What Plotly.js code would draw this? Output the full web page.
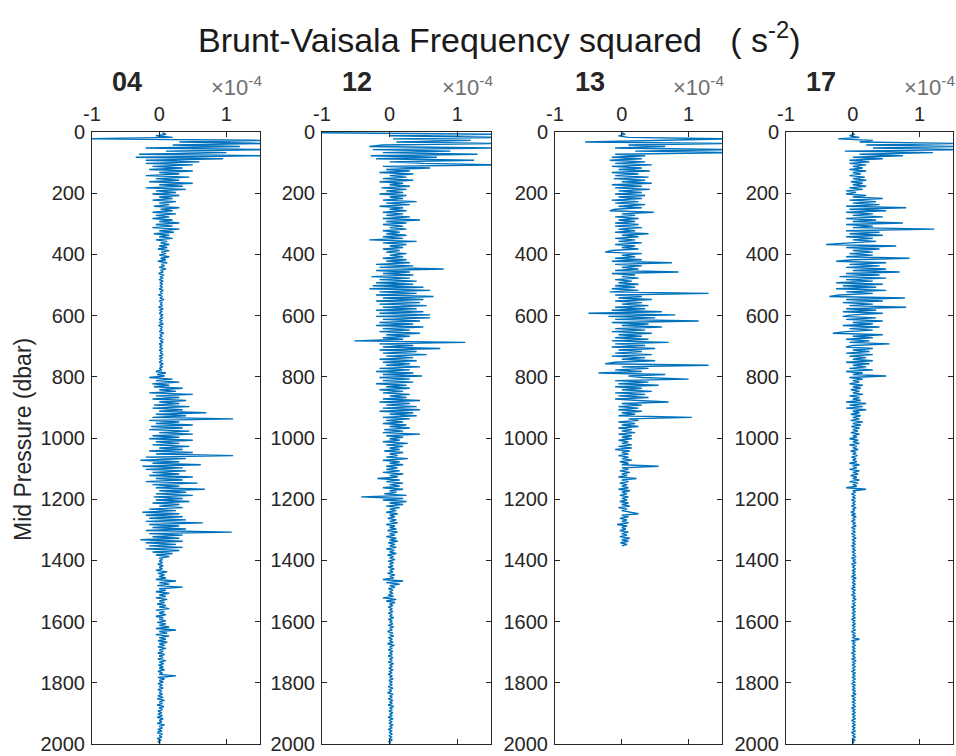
<!DOCTYPE html>
<html>
<head>
<meta charset="utf-8">
<script src="https://cdn.plot.ly/plotly-3.0.1.min.js"></script>
<style>html,body{margin:0;padding:0;background:#fff;}#chart{width:956px;height:756px;}</style>
</head>
<body>
<div id="chart"></div>
<script>
// N^2 values in units of 1e-4 s^-2, one value every 5 dbar (mid pressures 2.5, 7.5, ...)
const P_STEP = 5;
const stations = ["04", "12", "13", "17"];
const yTicks = [0, 200, 400, 600, 800, 1000, 1200, 1400, 1600, 1800, 2000];
const xTicks = [-1, 0, 1];

const n2_04 = [
0.05,0.1,-0.05,0.2,-1.05,1.6,0.3,1.6,0.2,1.2,-0.2,1.6,0.1,1.0,-0.3,1.6,-0.35,0.95,-0.2,0.6,
-0.2,0.5,-0.1,0.35,-0.15,0.5,0.0,0.3,-0.2,0.45,-0.05,0.3,-0.15,0.5,0.0,0.35,-0.2,0.4,-0.05,0.25,
-0.1,0.3,0.0,0.2,-0.1,0.25,0.0,0.15,-0.08,0.3,0.02,0.2,-0.1,0.25,-0.05,0.15,-0.1,0.2,0.0,0.3,
-0.05,0.2,-0.1,0.3,0.0,0.22,-0.08,0.15,0.0,0.2,-0.05,0.12,0.02,0.15,0.0,0.12,-0.02,0.15,0.03,0.1,
0.0,0.15,0.02,0.1,-0.02,0.12,0.03,0.08,0.0,0.1,0.02,0.06,-0.01,0.07,0.02,0.05,0.0,0.06,0.01,0.05,
0.01,0.05,0.0,0.06,0.02,0.04,-0.01,0.05,0.01,0.07,0.0,0.04,0.02,0.05,-0.01,0.06,0.01,0.04,0.0,0.05,
0.02,0.05,0.0,0.04,0.01,0.06,-0.01,0.05,0.02,0.04,0.0,0.07,0.01,0.04,0.0,0.05,0.02,0.06,0.0,0.04,
0.01,0.05,0.0,0.04,0.02,0.06,0.0,0.05,0.01,0.04,0.0,0.06,0.01,0.05,0.0,0.04,-0.05,0.1,-0.03,0.08,
-0.15,0.2,-0.05,0.3,-0.1,0.15,-0.08,0.35,0.0,0.25,-0.15,0.5,-0.05,0.3,-0.1,0.4,0.0,0.3,-0.08,0.45,
-0.1,0.35,0.0,0.7,-0.05,0.4,-0.1,1.1,-0.15,0.3,-0.05,0.5,-0.12,0.35,-0.15,0.45,0.0,0.5,-0.1,0.3,
-0.15,0.5,-0.05,0.3,-0.1,0.45,0.0,0.35,-0.15,0.5,-0.05,1.1,-0.2,0.4,-0.28,0.3,-0.1,0.62,-0.25,0.35,
-0.2,0.4,-0.1,0.3,-0.15,0.5,-0.05,0.35,-0.2,0.57,-0.1,0.3,-0.05,0.68,0.0,0.4,-0.05,0.5,-0.08,0.35,
-0.05,0.45,-0.1,0.3,0.0,0.35,-0.15,0.25,-0.25,0.3,-0.2,0.35,-0.15,0.4,-0.2,0.65,-0.15,0.3,-0.1,0.4,
-0.2,1.08,-0.15,0.35,-0.1,0.3,-0.28,0.35,-0.2,0.25,-0.15,0.35,-0.2,0.3,-0.1,0.2,-0.05,0.15,0.0,0.05,
0.0,0.05,-0.02,0.06,0.0,0.05,-0.05,0.12,-0.02,0.08,0.0,0.1,-0.05,0.25,0.0,0.15,-0.03,0.35,0.0,0.1,
-0.05,0.15,0.0,0.1,-0.05,0.12,0.0,0.08,-0.03,0.1,0.0,0.15,-0.05,0.08,0.0,0.1,-0.05,0.06,0.0,0.1,
-0.03,0.1,0.0,0.15,-0.05,0.25,0.0,0.12,-0.05,0.15,0.0,0.1,-0.02,0.12,0.0,0.08,-0.02,0.1,0.0,0.06,
-0.02,0.08,0.0,0.06,-0.02,0.1,0.0,0.07,-0.01,0.06,0.0,0.08,-0.02,0.05,0.0,0.25,-0.02,0.08,0.0,0.06,
-0.02,0.05,0.0,0.06,-0.02,0.04,0.0,0.05,-0.02,0.06,-0.03,0.08,0.0,0.05,-0.03,0.07,0.0,0.05,-0.02,0.04,
-0.02,0.05,-0.03,0.06,0.0,0.04,-0.03,0.08,0.0,0.05,-0.02,0.04,-0.03,0.05,0.0,0.04,-0.03,0.03,-0.02,0.02
];

const n2_12 = [
-1.1,1.6,0.0,1.6,0.05,1.2,0.1,1.6,-0.1,-0.3,1.6,-0.25,0.9,-0.1,1.3,-0.28,0.7,-0.2,1.25,0.0,
0.5,1.6,-0.1,0.6,-0.05,0.3,-0.15,0.35,0.0,0.25,-0.1,0.35,-0.15,0.2,0.0,0.3,-0.12,0.25,-0.05,0.2,
-0.15,0.25,0.0,0.2,-0.1,0.4,-0.05,0.3,-0.15,0.2,0.0,0.25,-0.1,0.2,-0.05,0.3,-0.1,0.45,-0.05,0.25,
-0.1,0.2,0.0,0.25,-0.1,0.15,-0.05,0.25,-0.1,0.2,-0.3,0.4,-0.1,0.25,0.0,0.2,-0.1,0.15,-0.05,0.25,
0.0,0.2,-0.1,0.25,-0.05,0.3,-0.2,0.35,-0.15,0.8,-0.2,0.3,-0.1,0.35,-0.27,0.3,-0.15,0.4,-0.2,0.35,
-0.25,0.5,-0.3,0.6,-0.15,0.4,-0.2,0.65,-0.1,0.5,-0.2,0.45,-0.15,0.55,-0.1,0.4,-0.2,0.5,-0.15,0.6,
-0.2,0.6,-0.1,0.45,-0.15,0.35,-0.2,0.5,-0.1,0.3,-0.15,0.45,-0.05,0.3,-0.1,0.2,-0.52,1.12,-0.15,0.35,
-0.1,0.75,-0.15,0.4,-0.1,0.55,-0.05,0.35,-0.15,0.4,-0.1,0.3,-0.05,0.45,-0.15,0.3,-0.2,0.35,-0.1,0.48,
-0.15,0.3,-0.1,0.35,-0.2,0.25,-0.05,0.3,-0.15,0.2,-0.1,0.3,0.0,0.25,-0.1,0.45,-0.15,0.3,-0.05,0.4,
-0.1,0.45,-0.15,0.35,0.0,0.4,-0.1,0.3,-0.05,0.2,-0.1,0.25,0.0,0.3,-0.08,0.2,-0.1,0.45,-0.05,0.2,
0.0,0.15,-0.1,0.27,-0.05,0.2,0.0,0.15,-0.08,0.2,0.0,0.12,-0.05,0.27,-0.1,0.15,0.0,0.2,-0.05,0.12,
-0.05,0.15,-0.1,0.2,0.0,0.12,-0.18,0.15,-0.05,0.2,0.0,0.15,-0.1,0.2,0.0,0.1,-0.08,0.25,-0.42,0.2,
-0.1,0.25,0.0,0.2,-0.05,0.15,0.0,0.1,-0.05,0.12,0.0,0.08,-0.03,0.1,0.0,0.12,-0.05,0.08,0.0,0.1,
-0.03,0.12,0.0,0.08,-0.05,0.1,0.0,0.12,-0.02,0.08,0.0,0.1,-0.05,0.07,0.0,0.1,-0.03,0.06,0.0,0.08,
-0.02,0.06,0.0,0.05,-0.02,0.07,0.0,0.05,-0.03,0.08,0.0,0.06,-0.1,0.2,-0.05,0.15,0.0,0.08,-0.02,0.05,
0.0,0.05,-0.02,0.06,-0.1,0.1,-0.05,0.08,0.0,0.05,-0.02,0.04,0.0,0.05,-0.02,0.04,0.0,0.06,-0.02,0.04,
0.0,0.05,-0.02,0.06,0.0,0.04,-0.03,0.05,0.0,0.06,-0.02,0.04,0.0,0.05,-0.03,0.07,0.0,0.04,-0.02,0.05,
0.0,0.04,-0.02,0.05,0.0,0.04,-0.02,0.06,0.0,0.04,-0.01,0.05,0.0,0.03,-0.02,0.04,0.0,0.05,-0.01,0.04,
0.0,0.04,-0.02,0.05,0.0,0.03,-0.03,0.05,0.0,0.04,-0.02,0.05,0.0,0.04,-0.02,0.06,0.0,0.04,-0.01,0.05,
0.0,0.04,-0.02,0.05,0.0,0.03,-0.01,0.05,0.0,0.04,-0.02,0.03,0.0,0.04,-0.01,0.03,0.0,0.04,-0.01,0.02
];

const n2_13 = [
0.0,0.05,-0.05,0.1,1.6,0.2,-0.55,1.6,0.1,0.65,-0.1,1.6,0.2,1.6,-0.1,0.35,-0.15,0.3,-0.18,0.35,
-0.1,0.45,-0.15,0.3,-0.05,0.42,-0.15,0.25,-0.1,0.4,-0.12,0.35,0.0,0.45,-0.15,0.3,-0.1,0.42,-0.05,0.3,
-0.1,0.35,-0.05,0.3,-0.15,0.25,-0.1,0.35,-0.05,0.3,-0.1,-0.18,0.48,0.0,0.2,-0.1,0.25,-0.05,0.2,-0.1,
0.25,-0.1,0.3,-0.05,0.2,-0.1,0.4,0.0,0.25,-0.1,0.2,-0.05,0.3,-0.1,0.2,0.0,0.25,-0.15,-0.25,0.3,
0.0,0.2,-0.1,0.3,-0.15,0.75,-0.1,0.3,0.0,0.25,-0.1,0.85,-0.15,0.2,0.0,0.25,-0.1,0.15,-0.05,0.25,
-0.1,0.2,-0.15,0.25,-0.18,1.3,-0.1,0.3,-0.05,0.45,-0.1,0.3,0.0,0.4,-0.1,0.35,-0.15,0.6,-0.5,0.8,
-0.2,0.5,-0.1,1.15,-0.15,0.4,0.0,0.6,-0.1,0.35,-0.15,0.45,-0.05,0.3,-0.1,0.4,-0.15,0.7,-0.1,0.35,
-0.15,0.5,-0.05,0.3,-0.1,0.45,-0.15,0.35,0.0,0.5,-0.1,-0.25,1.3,0.0,0.4,-0.1,0.3,-0.35,0.65,0.1,
0.3,1.0,-0.1,0.4,-0.05,0.55,-0.1,0.3,0.0,0.45,-0.1,0.35,-0.05,0.4,-0.1,0.25,0.7,0.0,0.3,-0.05,
0.25,-0.05,0.3,0.0,0.2,-0.05,1.05,0.1,0.25,-0.05,0.2,0.0,0.25,-0.05,0.15,0.0,0.2,-0.05,0.15,0.0,
0.15,-0.05,0.1,0.0,0.15,-0.05,0.15,-0.1,0.12,0.0,0.1,-0.05,0.1,0.0,0.15,-0.03,0.1,0.0,0.55,0.0,
0.1,-0.03,0.12,0.0,0.08,-0.05,0.22,0.0,0.1,-0.03,0.08,0.0,0.1,-0.05,0.12,0.0,0.08,-0.03,0.1,0.0,
0.08,-0.03,0.1,0.0,0.12,-0.05,0.08,0.0,0.1,0.25,0.0,0.1,-0.03,0.08,0.0,0.1,-0.07,0.08,0.0,0.06,
-0.03,0.1,0.0,0.08,-0.03,0.12,0.0,0.1,-0.02,0.08,0.0
];

const n2_17 = [
0.0,0.02,-0.05,0.1,-0.22,0.3,0.1,1.6,0.2,1.6,0.3,1.6,-0.12,1.2,0.1,0.75,0.0,0.45,-0.05,0.25,
-0.05,0.2,0.0,0.15,-0.05,0.2,0.0,0.12,-0.05,0.18,0.0,0.2,-0.03,0.15,0.0,0.2,-0.05,0.15,-0.1,0.05,
-0.1,0.2,0.0,0.45,-0.05,0.35,0.0,0.4,-0.1,0.8,-0.05,0.5,-0.1,0.3,0.0,0.45,-0.1,0.35,0.0,0.75,
-0.1,0.3,0.0,1.22,-0.1,0.4,-0.05,0.45,-0.1,0.3,0.0,0.35,-0.05,-0.4,0.65,-0.1,0.4,0.0,0.3,-0.05,
0.3,-0.1,0.85,0.0,-0.25,0.5,-0.05,0.4,-0.1,0.5,0.0,0.7,-0.1,0.4,-0.2,0.5,-0.1,0.3,-0.25,0.45,
-0.15,0.35,-0.25,0.5,-0.1,0.3,-0.2,-0.35,0.78,-0.1,0.45,-0.15,0.3,-0.05,0.8,-0.1,0.35,-0.15,0.45,0.0,
-0.15,0.35,-0.1,0.45,0.0,0.3,-0.15,0.4,-0.05,0.3,-0.1,-0.3,0.45,0.0,0.3,-0.1,0.25,-0.05,0.55,0.0,
-0.1,0.3,0.0,0.25,-0.1,0.3,-0.05,0.2,0.0,0.3,-0.1,0.25,0.0,0.2,-0.05,0.3,-0.1,0.15,0.0,0.5,
-0.05,0.15,0.0,0.1,-0.05,0.15,0.0,0.12,-0.03,0.1,0.0,0.15,-0.05,0.1,0.0,0.12,-0.1,0.2,-0.05,0.15,
-0.1,0.2,0.0,0.1,-0.03,0.12,0.0,0.1,-0.03,0.15,0.0,0.12,-0.02,0.1,0.0,0.08,-0.03,0.1,0.0,0.06,
-0.05,0.08,0.0,0.1,-0.05,0.06,0.0,0.08,-0.03,0.05,0.0,0.07,-0.02,0.05,0.0,0.06,-0.05,0.1,0.0,0.06,
-0.05,0.1,0.0,0.08,-0.03,0.06,0.0,0.1,-0.05,0.08,0.0,0.06,-0.1,0.2,0.0,0.04,-0.02,0.03,0.0,0.04,
-0.02,0.04,0.0,0.03,-0.02,0.05,0.0,0.03,-0.03,0.04,-0.02,0.05,0.0,0.03,-0.02,0.04,0.0,0.05,-0.02,0.03,
0.0,0.04,-0.02,0.03,0.0,0.05,-0.01,0.03,0.0,0.04,-0.02,0.03,0.0,0.04,-0.01,0.03,0.0,0.05,-0.02,0.04,
0.0,0.05,-0.02,0.03,0.0,0.04,-0.01,0.03,0.0,0.04,-0.02,0.05,0.0,0.03,-0.01,0.04,0.0,0.03,-0.02,0.04,
0.0,0.03,-0.02,0.04,0.0,0.05,-0.01,0.03,0.0,0.04,-0.02,0.03,0.0,0.04,-0.01,0.03,0.0,0.04,-0.02,0.03,
0.0,0.04,-0.01,0.03,0.0,0.04,-0.02,0.03,0.0,0.04,-0.01,0.1,-0.02,0.03,0.0,0.04,-0.01,0.03,0.0,0.04,
-0.02,0.03,0.0,0.04,-0.02,0.05,0.0,0.03,-0.01,0.04,0.0,0.03,-0.02,0.04,0.0,0.03,-0.01,0.04,0.0,0.03,
-0.02,0.04,0.0,0.03,-0.01,0.04,0.0,0.05,-0.02,0.03,0.0,0.04,-0.01,0.03,0.0,0.04,-0.02,0.03,0.0,0.04,
-0.01,0.03,0.0,0.04,-0.02,0.03,0.0,0.04,-0.01,0.03,0.0,0.04,-0.02,0.03,0.0,0.04,-0.01,0.03,0.0,0.02
];

const series = [n2_04, n2_12, n2_13, n2_17];

const W = 956, H = 756;
const FONT = "Liberation Sans, Arial, Helvetica, sans-serif";
const AX_COL = "#262626";
const panelsPx = [[92, 260], [322, 491], [555, 722], [786, 953]];
const topPx = 132, botPx = 744;
const px = v => v / W, py = v => 1 - v / H;

const traces = series.map((vals, k) => ({
  type: "scatter", mode: "lines",
  x: vals,
  y: vals.map((_, i) => P_STEP * i + P_STEP / 2),
  xaxis: k === 0 ? "x" : "x" + (k + 1),
  yaxis: k === 0 ? "y" : "y" + (k + 1),
  line: { color: "#0072BD", width: 1.4 },
  hoverinfo: "skip", showlegend: false
}));

const layout = {
  width: W, height: H, autosize: false,
  margin: { l: 0, r: 0, t: 0, b: 0, pad: 0 },
  paper_bgcolor: "#ffffff", plot_bgcolor: "#ffffff",
  font: { family: FONT, size: 20, color: AX_COL },
  showlegend: false,
  annotations: []
};

panelsPx.forEach((p, k) => {
  const sx = k === 0 ? "" : String(k + 1);
  layout["xaxis" + sx] = {
    domain: [px(p[0]), px(p[1])],
    anchor: "y" + sx,
    side: "top",
    range: [-1, 1.5],
    tickmode: "array", tickvals: xTicks, ticktext: xTicks.map(String),
    ticks: "inside", ticklen: 5, tickwidth: 1, tickcolor: AX_COL,
    showline: true, linecolor: AX_COL, linewidth: 1, mirror: "ticks",
    showgrid: false, zeroline: false,
    tickfont: { family: FONT, size: 20, color: AX_COL },
    ticklabelstandoff: 2,
    fixedrange: true
  };
  layout["yaxis" + sx] = {
    domain: [py(botPx), py(topPx)],
    anchor: "x" + sx,
    range: [2000, 0],
    tickmode: "array", tickvals: yTicks, ticktext: yTicks.map(String),
    ticks: "inside", ticklen: 5, tickwidth: 1, tickcolor: AX_COL,
    showline: true, linecolor: AX_COL, linewidth: 1, mirror: "ticks",
    showgrid: false, zeroline: false,
    tickfont: { family: FONT, size: 20, color: AX_COL },
    ticklabelstandoff: 2,
    fixedrange: true
  };
  // station title
  layout.annotations.push({
    xref: "paper", yref: "paper", x: px(p[0] + 35), y: py(82),
    xanchor: "center", yanchor: "middle", showarrow: false,
    text: "<b>" + stations[k] + "</b>",
    font: { family: FONT, size: 27, color: "#262626" }
  });
  // exponent label
  layout.annotations.push({
    xref: "paper", yref: "paper", x: px(p[1] + 4), y: py(86),
    xanchor: "right", yanchor: "middle", showarrow: false,
    text: "\u00d710<sup>-4</sup>",
    font: { family: FONT, size: 22, color: "#707070" }
  });
});

layout.annotations.push({
  xref: "paper", yref: "paper", x: px(499), y: py(37),
  xanchor: "center", yanchor: "middle", showarrow: false,
  text: "Brunt-Vaisala Frequency squared &nbsp; ( s<sup>-2</sup>)",
  font: { family: FONT, size: 34, color: "#1a1a1a" }
});
layout.annotations.push({
  xref: "paper", yref: "paper", x: px(23), y: py(440),
  xanchor: "center", yanchor: "middle", showarrow: false, textangle: -90,
  text: "Mid Pressure (dbar)",
  font: { family: FONT, size: 23, color: AX_COL }
});

Plotly.newPlot("chart", traces, layout, { staticPlot: true, displayModeBar: false });
</script>
</body>
</html>
